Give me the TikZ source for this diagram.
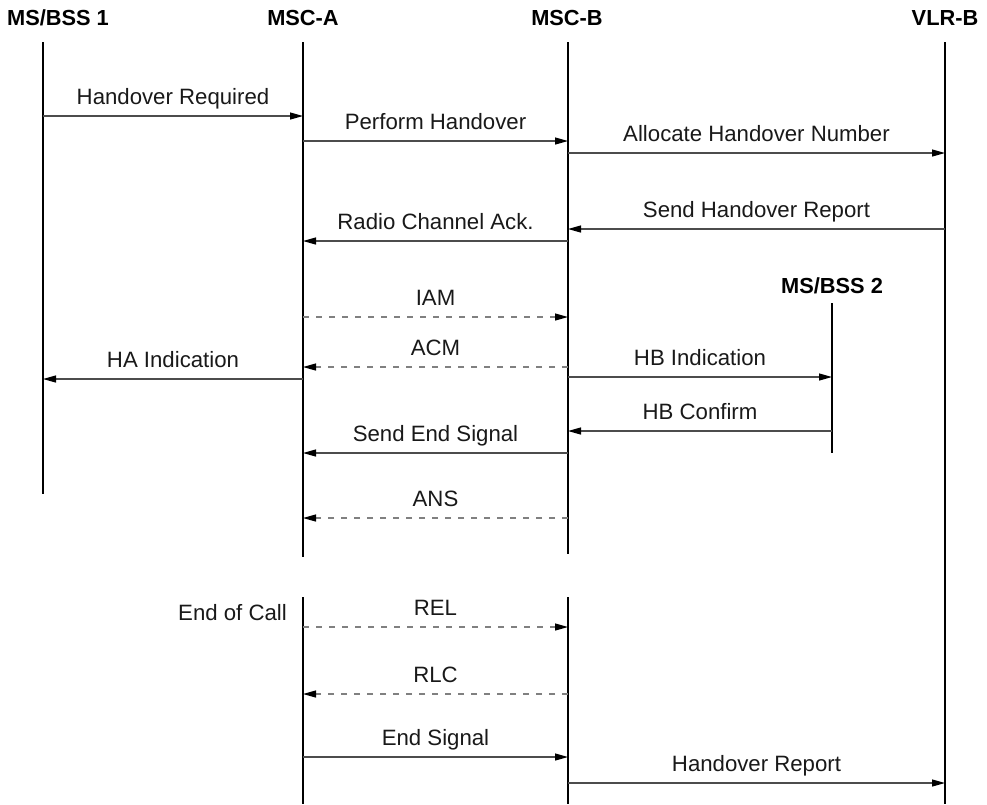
\documentclass[tikz,border=0pt]{standalone}
\usepackage{fontspec}
\setmainfont{Liberation Sans}
\usetikzlibrary{arrows.meta}
\begin{document}
\begin{tikzpicture}[x=1pt,y=-1pt,
  life/.style={line width=2.6pt, draw=black},
  msg/.style={line width=1.2pt, draw=black!70, -{Triangle[length=13pt,width=7pt,color=black]}},
  dmsg/.style={msg, draw=black!50, dash pattern=on 6pt off 7pt},
  lbl/.style={font=\fontsize{22.2}{25}\selectfont, anchor=base, inner sep=0pt, yshift=12pt, text=black!90},
  hdr/.style={font=\fontsize{21.8}{25}\selectfont\bfseries, anchor=base, inner sep=0pt}]

\fill[white] (0,0) rectangle (987,804);
\useasboundingbox (0,0) rectangle (987,804);

% headers
\node[hdr] (h1) at (58,25) {MS/BSS 1};
\node[hdr] (hA) at (303,25) {MSC-A};
\node[hdr] (hB) at (567,25) {MSC-B};
\node[hdr] (hV) at (945,25) {VLR-B};
\node[hdr] (h2) at (832,293) {MS/BSS 2};

% lifeline coordinates
\coordinate (L1) at (43,42);   \coordinate (L1e) at (43,494);
\coordinate (A)  at (303,42);  \coordinate (Ae)  at (303,557);
\coordinate (A2) at (303,597); \coordinate (A2e) at (303,804);
\coordinate (B)  at (568,42);  \coordinate (Be)  at (568,554);
\coordinate (B2) at (568,597); \coordinate (B2e) at (568,804);
\coordinate (V)  at (945,42);  \coordinate (Ve)  at (945,804);
\coordinate (M)  at (832,303); \coordinate (Me)  at (832,453);

\draw[life] (L1) -- (L1e);
\draw[life] (A) -- (Ae);
\draw[life] (A2) -- (A2e);
\draw[life] (B) -- (Be);
\draw[life] (B2) -- (B2e);
\draw[life] (V) -- (Ve);
\draw[life] (M) -- (Me);

% messages
\draw[msg]  (L1 |- 0,116) -- node[lbl]{Handover Required} (A |- 0,116);
\draw[msg]  (A |- 0,141) -- node[lbl]{Perform Handover} (B |- 0,141);
\draw[msg]  (B |- 0,153) -- node[lbl]{Allocate Handover Number} (V |- 0,153);
\draw[msg]  (V |- 0,229) -- node[lbl]{Send Handover Report} (B |- 0,229);
\draw[msg]  (B |- 0,241) -- node[lbl]{Radio Channel Ack.} (A |- 0,241);
\draw[dmsg] (A |- 0,317) -- node[lbl]{IAM} (B |- 0,317);
\draw[dmsg] (B |- 0,367) -- node[lbl]{ACM} (A |- 0,367);
\draw[msg]  (A |- 0,379) -- node[lbl]{HA Indication} (L1 |- 0,379);
\draw[msg]  (B |- 0,377) -- node[lbl]{HB Indication} (M |- 0,377);
\draw[msg]  (M |- 0,431) -- node[lbl]{HB Confirm} (B |- 0,431);
\draw[msg]  (B |- 0,453) -- node[lbl]{Send End Signal} (A |- 0,453);
\draw[dmsg] (B |- 0,518) -- node[lbl]{ANS} (A |- 0,518);
\draw[dmsg] (A2 |- 0,627) -- node[lbl]{REL} (B2 |- 0,627);
\draw[dmsg] (B2 |- 0,694) -- node[lbl]{RLC} (A2 |- 0,694);
\draw[msg]  (A2 |- 0,757) -- node[lbl]{End Signal} (B2 |- 0,757);
\draw[msg]  (B2 |- 0,783) -- node[lbl]{Handover Report} (V |- 0,783);

\node[font=\fontsize{22.2}{25}\selectfont, anchor=base east, inner sep=0pt, text=black!90] (eoc) at (287,620) {End of Call};
\end{tikzpicture}
\end{document}
